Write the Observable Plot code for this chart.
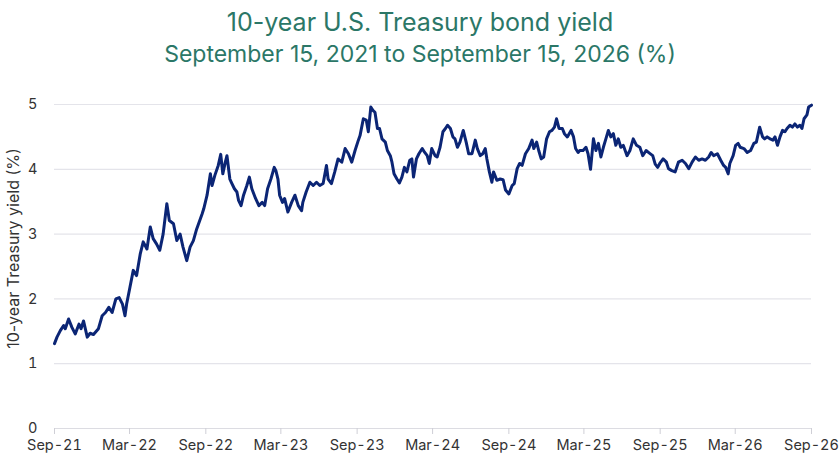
<!DOCTYPE html>
<html>
<head>
<meta charset="utf-8">
<script src="https://cdn.jsdelivr.net/npm/d3@7"></script>
<script src="https://cdn.jsdelivr.net/npm/@observablehq/plot@0.6"></script>
<style>
  html, body { margin: 0; padding: 0; background: #fff; }
  #wrap { position: relative; width: 840px; height: 472px; font-family: Inter, "Liberation Sans", Arial, sans-serif; }
  #title { position: absolute; left: 0; width: 840px; top: 7px; text-align: center; font-size: 25px; line-height: 30px; color: #2b7767; }
  #subtitle { position: absolute; left: 0; width: 840px; top: 40px; text-align: center; font-size: 23px; line-height: 28px; color: #2b7767; }
  #chart { position: absolute; left: 0; top: 80px; }
</style>
</head>
<body>
<div id="wrap">
  <div id="title">10-year U.S. Treasury bond yield</div>
  <div id="subtitle">September 15, 2021 to September 15, 2026 (%)</div>
  <div id="chart"></div>
</div>
<script>
const yLabel = "10-year Treasury yield (%)";
const yTicks = [0, 1, 2, 3, 4, 5];
const xTickDates = ["2021-09-15","2022-03-15","2022-09-15","2023-03-15","2023-09-15","2024-03-15","2024-09-15","2025-03-15","2025-09-15","2026-03-15","2026-09-15"];

const yieldsYear1 = [
["2021-09-15",1.31],["2021-09-21",1.41],["2021-09-29",1.51],["2021-10-07",1.59],["2021-10-11",1.54],["2021-10-19",1.69],["2021-10-27",1.56],["2021-11-04",1.46],["2021-11-13",1.61],["2021-11-18",1.54],["2021-11-24",1.66],["2021-12-03",1.41],["2021-12-10",1.47],["2021-12-18",1.45],["2021-12-30",1.54],["2022-01-08",1.74],["2022-01-16",1.79],["2022-01-24",1.87],["2022-02-01",1.79],["2022-02-10",2.00],["2022-02-18",2.02],["2022-02-26",1.92],["2022-03-04",1.74],["2022-03-08",1.92],["2022-03-16",2.18],["2022-03-24",2.44],["2022-04-01",2.36],["2022-04-10",2.70],["2022-04-17",2.88],["2022-04-26",2.77],["2022-05-04",3.11],["2022-05-11",2.93],["2022-05-19",2.85],["2022-05-27",2.75],["2022-06-04",3.00],["2022-06-13",3.47],["2022-06-19",3.21],["2022-06-29",3.16],["2022-07-07",2.90],["2022-07-15",3.00],["2022-07-22",2.80],["2022-07-31",2.59],["2022-08-08",2.80],["2022-08-16",2.90],["2022-08-24",3.08],["2022-09-06",3.31],["2022-09-10",3.39]
];
const yieldsYear2 = [
["2022-09-18",3.60],["2022-09-26",3.93],["2022-09-30",3.75],["2022-10-07",3.91],["2022-10-15",4.06],["2022-10-21",4.23],["2022-10-26",3.93],["2022-11-01",4.11],["2022-11-05",4.21],["2022-11-12",3.85],["2022-11-17",3.78],["2022-11-23",3.70],["2022-11-29",3.65],["2022-12-03",3.52],["2022-12-09",3.44],["2022-12-15",3.60],["2022-12-23",3.75],["2022-12-29",3.88],["2023-01-04",3.70],["2023-01-13",3.55],["2023-01-21",3.44],["2023-01-29",3.49],["2023-02-04",3.44],["2023-02-11",3.70],["2023-02-19",3.85],["2023-02-27",4.03],["2023-03-03",3.98],["2023-03-08",3.85],["2023-03-12",3.60],["2023-03-19",3.49],["2023-03-24",3.55],["2023-04-01",3.34],["2023-04-10",3.49],["2023-04-18",3.60],["2023-04-26",3.44],["2023-05-04",3.36],["2023-05-07",3.49],["2023-05-15",3.65],["2023-05-24",3.80],["2023-06-01",3.75],["2023-06-09",3.80],["2023-06-17",3.75],["2023-06-25",3.78],["2023-07-03",4.06],["2023-07-07",3.85],["2023-07-15",3.78],["2023-07-23",3.96],["2023-07-31",4.16],["2023-08-09",4.11],["2023-08-17",4.32],["2023-08-25",4.24],["2023-09-02",4.11],["2023-09-10",4.29]
];
const yieldsYear3 = [
["2023-09-18",4.45],["2023-09-22",4.52],["2023-09-30",4.78],["2023-10-07",4.76],["2023-10-12",4.58],["2023-10-18",4.96],["2023-10-23",4.91],["2023-10-28",4.88],["2023-11-03",4.63],["2023-11-08",4.63],["2023-11-14",4.47],["2023-11-22",4.42],["2023-11-27",4.29],["2023-12-04",4.21],["2023-12-08",4.11],["2023-12-13",3.93],["2023-12-20",3.85],["2023-12-26",3.79],["2024-01-01",3.88],["2024-01-07",4.03],["2024-01-13",3.96],["2024-01-20",4.14],["2024-01-25",4.16],["2024-01-29",3.88],["2024-02-05",4.16],["2024-02-11",4.24],["2024-02-19",4.32],["2024-02-25",4.26],["2024-03-02",4.21],["2024-03-07",4.09],["2024-03-13",4.32],["2024-03-21",4.21],["2024-03-26",4.19],["2024-04-02",4.34],["2024-04-09",4.58],["2024-04-15",4.63],["2024-04-20",4.68],["2024-04-27",4.63],["2024-05-03",4.50],["2024-05-08",4.47],["2024-05-14",4.34],["2024-05-20",4.42],["2024-05-28",4.60],["2024-06-04",4.42],["2024-06-10",4.24],["2024-06-18",4.24],["2024-06-26",4.45],["2024-07-01",4.32],["2024-07-08",4.21],["2024-07-14",4.24],["2024-07-20",4.32],["2024-07-24",4.16],["2024-07-30",3.96],["2024-08-05",3.80],["2024-08-09",3.96],["2024-08-17",3.83],["2024-08-25",3.85],["2024-09-01",3.84],["2024-09-07",3.68]
];
const yieldsYear4 = [
["2024-09-15",3.62],["2024-09-23",3.75],["2024-09-28",3.78],["2024-10-05",4.01],["2024-10-11",4.09],["2024-10-17",4.06],["2024-10-25",4.24],["2024-11-02",4.32],["2024-11-10",4.45],["2024-11-14",4.32],["2024-11-21",4.42],["2024-11-26",4.29],["2024-12-02",4.16],["2024-12-08",4.19],["2024-12-15",4.47],["2024-12-22",4.58],["2024-12-28",4.60],["2025-01-03",4.65],["2025-01-08",4.78],["2025-01-14",4.63],["2025-01-22",4.63],["2025-01-27",4.55],["2025-02-03",4.50],["2025-02-12",4.60],["2025-02-18",4.50],["2025-02-23",4.32],["2025-03-01",4.26],["2025-03-05",4.29],["2025-03-13",4.29],["2025-03-20",4.34],["2025-03-25",4.24],["2025-03-31",4.00],["2025-04-07",4.47],["2025-04-13",4.29],["2025-04-19",4.40],["2025-04-25",4.19],["2025-05-01",4.34],["2025-05-07",4.47],["2025-05-13",4.60],["2025-05-19",4.50],["2025-05-25",4.55],["2025-05-31",4.37],["2025-06-06",4.47],["2025-06-12",4.34],["2025-06-18",4.37],["2025-06-27",4.21],["2025-07-04",4.29],["2025-07-12",4.47],["2025-07-20",4.37],["2025-07-28",4.34],["2025-08-04",4.21],["2025-08-12",4.29],["2025-08-20",4.25],["2025-08-28",4.21],["2025-09-03",4.08],["2025-09-09",4.03]
];
const yieldsYear5 = [
["2025-09-14",4.09],["2025-09-22",4.16],["2025-09-30",4.11],["2025-10-05",4.01],["2025-10-13",3.98],["2025-10-21",3.96],["2025-10-29",4.11],["2025-11-07",4.14],["2025-11-15",4.09],["2025-11-23",4.01],["2025-12-01",4.11],["2025-12-09",4.19],["2025-12-17",4.14],["2025-12-25",4.16],["2026-01-02",4.14],["2026-01-10",4.19],["2026-01-16",4.26],["2026-01-22",4.21],["2026-01-31",4.24],["2026-02-08",4.14],["2026-02-15",4.06],["2026-02-20",4.03],["2026-02-26",3.93],["2026-03-02",4.09],["2026-03-10",4.21],["2026-03-16",4.37],["2026-03-22",4.40],["2026-03-27",4.34],["2026-04-05",4.32],["2026-04-13",4.26],["2026-04-21",4.29],["2026-04-29",4.40],["2026-05-05",4.42],["2026-05-13",4.65],["2026-05-20",4.50],["2026-05-25",4.47],["2026-05-31",4.50],["2026-06-07",4.47],["2026-06-14",4.45],["2026-06-19",4.50],["2026-06-25",4.37],["2026-07-01",4.50],["2026-07-07",4.60],["2026-07-13",4.58],["2026-07-18",4.63],["2026-07-25",4.68],["2026-07-31",4.65],["2026-08-06",4.70],["2026-08-12",4.65],["2026-08-18",4.68],["2026-08-23",4.63],["2026-08-28",4.78],["2026-09-04",4.84],["2026-09-08",4.96],["2026-09-15",4.99]
];

const parse = d3.utcParse("%Y-%m-%d");
const series = [...yieldsYear1, ...yieldsYear2, ...yieldsYear3, ...yieldsYear4, ...yieldsYear5]
  .map(([d, v]) => ({date: parse(d), value: v}));
const xTicks = xTickDates.map(parse);

const chart = Plot.plot({
  width: 840,
  height: 382,
  marginTop: 24,
  marginBottom: 34,
  marginLeft: 54,
  marginRight: 29,
  style: {fontFamily: "Inter, 'Liberation Sans', Arial, sans-serif", color: "#333", background: "#fff"},
  x: {type: "utc", domain: [xTicks[0], xTicks[xTicks.length - 1]]},
  y: {domain: [0, 5]},
  marks: [
    Plot.gridY(yTicks.filter(t => t > 0), {stroke: "#e4e4ea", strokeOpacity: 1, strokeWidth: 1.2}),
    Plot.ruleY([0], {stroke: "#dcdce2", strokeWidth: 1.2}),
    Plot.axisY({ticks: yTicks, tickSize: 0, tickPadding: 17, fontSize: 14.5, label: null, tickFormat: d => String(d), fill: "#333"}),
    Plot.axisX({ticks: xTicks, tickFormat: d3.utcFormat("%b-%y"), tickSize: 6, tickPadding: 5, fontSize: 14.5, label: null, stroke: "#cfcfd6", fill: "#333"}),
    Plot.text([yLabel], {frameAnchor: "left", textAnchor: "middle", rotate: -90, dx: -41, dy: -18, fontSize: 16, fill: "#333"}),
    Plot.line(series, {x: "date", y: "value", stroke: "#0b2575", strokeWidth: 3, strokeLinejoin: "round", strokeLinecap: "round"})
  ]
});
document.getElementById("chart").appendChild(chart);
</script>
</body>
</html>
